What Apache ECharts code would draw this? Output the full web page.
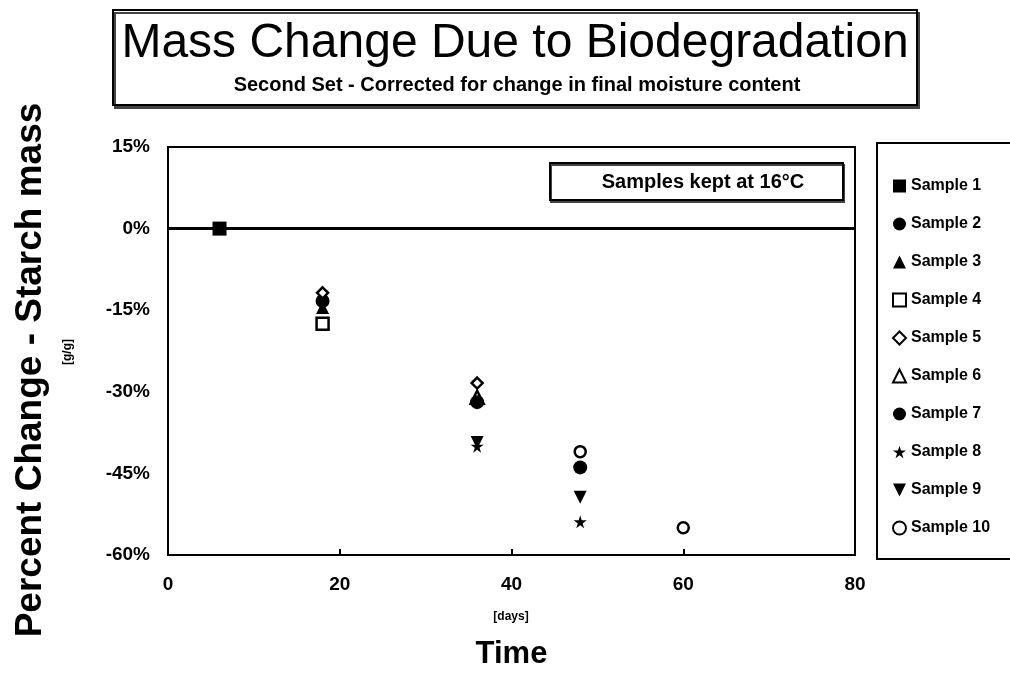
<!DOCTYPE html>
<html>
<head>
<meta charset="utf-8">
<script src="https://cdn.jsdelivr.net/npm/echarts@6/dist/echarts.min.js"></script>
<style>
html, body { margin: 0; padding: 0; background: #fff; }
#main { width: 1010px; height: 675px; }
</style>
</head>
<body>
<div id="main"></div>
<script>
// samples, each one a list of [day, percent change]
var sampleNames = ['Sample 1', 'Sample 2', 'Sample 3', 'Sample 4', 'Sample 5',
                   'Sample 6', 'Sample 7', 'Sample 8', 'Sample 9', 'Sample 10'];
var sample1 = [[6, 0]];
var sample2 = [[18, -13.3]];
var sample3 = [[18, -14.5]];
var sample4 = [[18, -17.5]];
var sample5 = [[18, -11.8], [36, -28.4]];
var sample6 = [[36, -31.0]];
var sample7 = [[36, -31.9], [48, -43.9]];
var sample8 = [[36, -40.0], [48, -53.9]];
var sample9 = [[36, -39.3], [48, -49.4]];
var sample10 = [[48, -41.0], [60, -55.0]];
var allSamples = [sample1, sample2, sample3, sample4, sample5, sample6, sample7, sample8, sample9, sample10];

var xTicks = [0, 20, 40, 60, 80];
var yTicks = [-60, -45, -30, -15, 0, 15];

var font = 'Liberation Sans';
var star = 'path://M50,0 L61,35 L98,35 L68,57 L79,91 L50,70 L21,91 L32,57 L2,35 L39,35 Z';
var downTri = 'path://M0,0 L10,0 L5,10 Z';
var symbols = ['rect', 'circle', 'triangle', 'rect', 'diamond', 'triangle', 'circle', star, downTri, 'circle'];
var hollow = [false, false, false, true, true, true, false, false, false, true];
var sizes = [14, 14, 13, 12, 11, 13, 14, 13, 13, 11];

var myChart = echarts.init(document.getElementById('main'));

var series = sampleNames.map(function (name, i) {
    var s = {
        name: name,
        type: 'scatter',
        symbol: symbols[i],
        symbolSize: sizes[i],
        data: allSamples[i],
        itemStyle: hollow[i]
            ? { color: '#fff', borderColor: '#000', borderWidth: 2.5, opacity: 1 }
            : { color: '#000', opacity: 1 },
        z: 3
    };
    if (i === 0) {
        // heavy line at 0%
        s.markLine = {
            silent: true,
            symbol: 'none',
            label: { show: false },
            lineStyle: { color: '#000', width: 3, type: 'solid' },
            data: [{ yAxis: 0 }],
            z: 2
        };
    }
    return s;
});

var option = {
    backgroundColor: '#fff',
    animation: false,
    textStyle: { fontFamily: font },
    grid: {
        left: 168, right: 155, top: 147, bottom: 118,
        show: true, borderColor: '#000', borderWidth: 2
    },
    legend: {
        orient: 'vertical',
        left: 887, top: 173,
        itemWidth: 13, itemHeight: 13,
        itemGap: 22,
        textStyle: { fontFamily: font, fontWeight: 'bold', fontSize: 16, color: '#000' },
        data: sampleNames
    },
    xAxis: {
        type: 'value',
        min: xTicks[0], max: xTicks[xTicks.length - 1], interval: 20,
        name: 'Time',
        nameLocation: 'middle',
        nameGap: 84,
        nameTextStyle: { fontFamily: font, fontWeight: 'bold', fontSize: 31, color: '#000' },
        axisLine: { onZero: false, lineStyle: { color: '#000', width: 2 } },
        axisTick: { inside: true, length: 6, lineStyle: { color: '#000', width: 2 } },
        axisLabel: { fontFamily: font, fontWeight: 'bold', fontSize: 19, color: '#000', margin: 20 },
        splitLine: { show: false }
    },
    yAxis: {
        type: 'value',
        min: yTicks[0], max: yTicks[yTicks.length - 1], interval: 15,
        axisLine: { onZero: false, lineStyle: { color: '#000', width: 2 } },
        axisTick: { show: false },
        axisLabel: { fontFamily: font, fontWeight: 'bold', fontSize: 19, color: '#000', margin: 18, formatter: '{value}%' },
        splitLine: { show: false }
    },
    graphic: [
        {
            type: 'rect',
            shape: { x: 113, y: 10, width: 804, height: 95 },
            style: { fill: '#fff', stroke: '#000', lineWidth: 2, shadowColor: '#444', shadowOffsetX: 2, shadowOffsetY: 3 },
            z: 1
        },
        {
            type: 'text',
            x: 515, y: 44,
            style: { text: 'Mass Change Due to Biodegradation', font: '48px "Liberation Sans"', fill: '#000', textAlign: 'center', textVerticalAlign: 'middle' },
            z: 2
        },
        {
            type: 'text',
            x: 517, y: 85,
            style: { text: 'Second Set - Corrected for change in final moisture content', font: 'bold 20px "Liberation Sans"', fill: '#000', textAlign: 'center', textVerticalAlign: 'middle' },
            z: 2
        },
        {
            type: 'rect',
            shape: { x: 550, y: 163, width: 293, height: 37 },
            style: { fill: '#fff', stroke: '#000', lineWidth: 2, shadowColor: '#444', shadowOffsetX: 1, shadowOffsetY: 2 },
            z: 5
        },
        {
            type: 'text',
            x: 703, y: 182,
            style: { text: 'Samples kept at 16°C', font: 'bold 20px "Liberation Sans"', fill: '#000', textAlign: 'center', textVerticalAlign: 'middle' },
            z: 6
        },
        {
            type: 'rect',
            shape: { x: 877, y: 143, width: 140, height: 416 },
            style: { fill: 'none', stroke: '#000', lineWidth: 2 },
            z: 1
        },
        {
            type: 'text',
            x: 31, y: 370,
            rotation: Math.PI / 2,
            style: { text: 'Percent Change - Starch mass', font: 'bold 37px "Liberation Sans"', fill: '#000', textAlign: 'center', textVerticalAlign: 'middle' },
            z: 2
        },
        {
            type: 'text',
            x: 511, y: 617,
            style: { text: '[days]', font: 'bold 12px "Liberation Sans"', fill: '#000', textAlign: 'center', textVerticalAlign: 'middle' },
            z: 2
        },
        {
            type: 'text',
            x: 68, y: 352,
            rotation: Math.PI / 2,
            style: { text: '[g/g]', font: 'bold 12px "Liberation Sans"', fill: '#000', textAlign: 'center', textVerticalAlign: 'middle' },
            z: 2
        }
    ],
    series: series
};

myChart.setOption(option, true);
</script>
</body>
</html>
